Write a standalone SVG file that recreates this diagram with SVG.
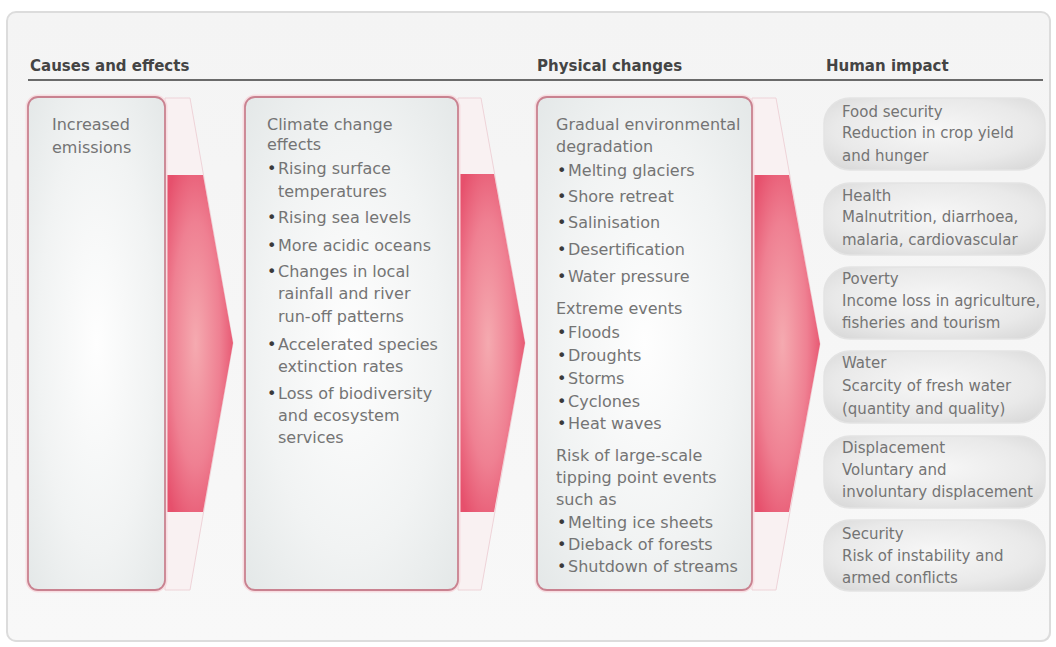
<svg xmlns="http://www.w3.org/2000/svg" width="1056" height="647" viewBox="0 0 1056 647">
<defs>
<radialGradient id="boxFill" cx="0.5" cy="0.5" r="0.7">
<stop offset="0" stop-color="#fefefe"/>
<stop offset="0.6" stop-color="#f1f3f3"/>
<stop offset="1" stop-color="#e4e8e8"/>
</radialGradient>
<radialGradient id="pillFill" cx="0.5" cy="0.45" r="0.75">
<stop offset="0" stop-color="#f7f7f7"/>
<stop offset="0.6" stop-color="#e9e9e9"/>
<stop offset="1" stop-color="#d4d4d4"/>
</radialGradient>
<radialGradient id="pink" cx="0.45" cy="0.5" r="0.6">
<stop offset="0" stop-color="#f5aab0"/>
<stop offset="0.6" stop-color="#ef8092"/>
<stop offset="1" stop-color="#e6506c"/>
</radialGradient>
<linearGradient id="cardFill" x1="0" y1="0" x2="0" y2="1">
<stop offset="0" stop-color="#f4f4f4"/>
<stop offset="1" stop-color="#f8f8f8"/>
</linearGradient>
</defs>
<style>
.hdr{font-family:"DejaVu Sans","Liberation Sans",sans-serif;font-weight:bold;font-size:15px;fill:#444444}
.t{font-family:"DejaVu Sans","Liberation Sans",sans-serif;font-size:16px;fill:#747474}
.h{font-family:"DejaVu Sans","Liberation Sans",sans-serif;font-size:15px;fill:#747474}
.b{fill:#3a3a3a}
.box{fill:url(#boxFill);stroke:#c98290;stroke-width:1.8}
.glow{fill:none;stroke:#f7dde1;stroke-width:5}
.pill{fill:url(#pillFill);stroke:#e3e3e3;stroke-width:1.5}
.chev{fill:#f9f1f2;stroke:#eed3d8;stroke-width:1}
.band{fill:url(#pink)}
</style>
<rect x="0" y="0" width="1056" height="647" fill="#ffffff"/>
<rect x="8" y="13" width="1043" height="629" rx="9" fill="#e6e6e6"/>
<rect x="7" y="12" width="1043" height="629" rx="9" fill="url(#cardFill)" stroke="#dcdcdc" stroke-width="2"/>
<g id="headers">
<text class="hdr" x="30" y="71">Causes and effects</text>
<text class="hdr" x="537" y="71">Physical changes</text>
<text class="hdr" x="826" y="71">Human impact</text>
<line x1="28" y1="80" x2="1043" y2="80" stroke="#6a6a6a" stroke-width="2"/>
</g>
<g id="connectors">
<polygon class="chev" points="165,98 190,98 233,343 190,590 165,590"/>
<polygon class="band" points="165,175 203,175 233,343 203,512 165,512"/>
<polygon class="chev" points="458,98 481,98 525,343 481,590 458,590"/>
<polygon class="band" points="458,174 494,174 525,343 494,512 458,512"/>
<polygon class="chev" points="752,98 776,98 820,344 776,590 752,590"/>
<polygon class="band" points="752,175 789,175 820,344 789,512 752,512"/>
</g>
<g id="node-emissions">
<rect class="glow" x="28" y="97" width="137" height="493" rx="10"/>
<rect class="box" x="28" y="97" width="137" height="493" rx="10"/>
<text class="t" x="52" y="130">Increased</text>
<text class="t" x="52" y="153">emissions</text>
</g>
<g id="node-climate">
<rect class="glow" x="245" y="97" width="213" height="493" rx="10"/>
<rect class="box" x="245" y="97" width="213" height="493" rx="10"/>
<text class="t" x="267" y="130">Climate change</text>
<text class="t" x="267" y="150">effects</text>
<text class="t" x="267" y="174"><tspan class="b">•</tspan><tspan x="278">Rising surface</tspan></text>
<text class="t" x="278" y="197">temperatures</text>
<text class="t" x="267" y="223"><tspan class="b">•</tspan><tspan x="278">Rising sea levels</tspan></text>
<text class="t" x="267" y="251"><tspan class="b">•</tspan><tspan x="278">More acidic oceans</tspan></text>
<text class="t" x="267" y="277"><tspan class="b">•</tspan><tspan x="278">Changes in local</tspan></text>
<text class="t" x="278" y="299">rainfall and river</text>
<text class="t" x="278" y="322">run-off patterns</text>
<text class="t" x="267" y="350"><tspan class="b">•</tspan><tspan x="278">Accelerated species</tspan></text>
<text class="t" x="278" y="372">extinction rates</text>
<text class="t" x="267" y="399"><tspan class="b">•</tspan><tspan x="278">Loss of biodiversity</tspan></text>
<text class="t" x="278" y="421">and ecosystem</text>
<text class="t" x="278" y="443">services</text>
</g>
<g id="node-physical">
<rect class="glow" x="537" y="97" width="215" height="493" rx="10"/>
<rect class="box" x="537" y="97" width="215" height="493" rx="10"/>
<text class="t" x="556" y="130">Gradual environmental</text>
<text class="t" x="556" y="152">degradation</text>
<text class="t" x="557" y="176"><tspan class="b">•</tspan><tspan x="568">Melting glaciers</tspan></text>
<text class="t" x="557" y="202"><tspan class="b">•</tspan><tspan x="568">Shore retreat</tspan></text>
<text class="t" x="557" y="228"><tspan class="b">•</tspan><tspan x="568">Salinisation</tspan></text>
<text class="t" x="557" y="255"><tspan class="b">•</tspan><tspan x="568">Desertification</tspan></text>
<text class="t" x="557" y="282"><tspan class="b">•</tspan><tspan x="568">Water pressure</tspan></text>
<text class="t" x="556" y="314">Extreme events</text>
<text class="t" x="557" y="338"><tspan class="b">•</tspan><tspan x="568">Floods</tspan></text>
<text class="t" x="557" y="361"><tspan class="b">•</tspan><tspan x="568">Droughts</tspan></text>
<text class="t" x="557" y="384"><tspan class="b">•</tspan><tspan x="568">Storms</tspan></text>
<text class="t" x="557" y="407"><tspan class="b">•</tspan><tspan x="568">Cyclones</tspan></text>
<text class="t" x="557" y="429"><tspan class="b">•</tspan><tspan x="568">Heat waves</tspan></text>
<text class="t" x="556" y="461">Risk of large-scale</text>
<text class="t" x="556" y="483">tipping point events</text>
<text class="t" x="556" y="505">such as</text>
<text class="t" x="557" y="528"><tspan class="b">•</tspan><tspan x="568">Melting ice sheets</tspan></text>
<text class="t" x="557" y="550"><tspan class="b">•</tspan><tspan x="568">Dieback of forests</tspan></text>
<text class="t" x="557" y="572"><tspan class="b">•</tspan><tspan x="568">Shutdown of streams</tspan></text>
</g>
<g id="node-food">
<rect class="pill" x="824" y="98" width="221" height="72" rx="26"/>
<text class="h" x="842" y="117">Food security</text>
<text class="h" x="842" y="138">Reduction in crop yield</text>
<text class="h" x="842" y="161">and hunger</text>
</g>
<g id="node-health">
<rect class="pill" x="824" y="183" width="221" height="72" rx="26"/>
<text class="h" x="842" y="201">Health</text>
<text class="h" x="842" y="222">Malnutrition, diarrhoea,</text>
<text class="h" x="842" y="245">malaria, cardiovascular</text>
</g>
<g id="node-poverty">
<rect class="pill" x="824" y="267" width="221" height="72" rx="26"/>
<text class="h" x="842" y="284">Poverty</text>
<text class="h" x="842" y="306">Income loss in agriculture,</text>
<text class="h" x="842" y="328">fisheries and tourism</text>
</g>
<g id="node-water">
<rect class="pill" x="824" y="351" width="221" height="72" rx="26"/>
<text class="h" x="842" y="368">Water</text>
<text class="h" x="842" y="391">Scarcity of fresh water</text>
<text class="h" x="842" y="414">(quantity and quality)</text>
</g>
<g id="node-displacement">
<rect class="pill" x="824" y="436" width="221" height="72" rx="26"/>
<text class="h" x="842" y="453">Displacement</text>
<text class="h" x="842" y="475">Voluntary and</text>
<text class="h" x="842" y="497">involuntary displacement</text>
</g>
<g id="node-security">
<rect class="pill" x="824" y="520" width="221" height="71" rx="26"/>
<text class="h" x="842" y="539">Security</text>
<text class="h" x="842" y="561">Risk of instability and</text>
<text class="h" x="842" y="583">armed conflicts</text>
</g>
</svg>
